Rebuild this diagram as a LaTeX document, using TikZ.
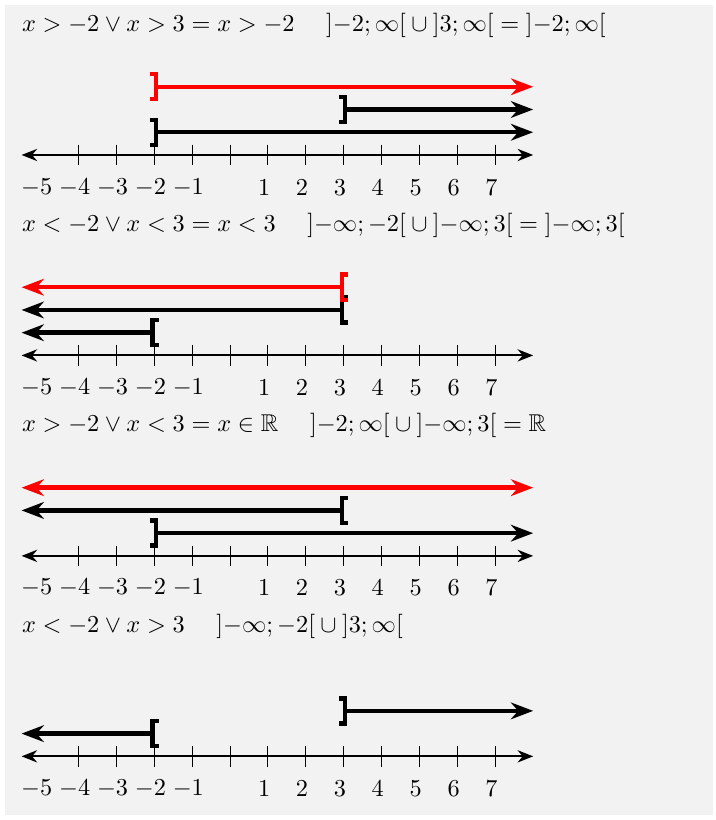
\documentclass[11pt,tikz,border=0pt]{standalone}
\usepackage{amsmath,amssymb}
\usetikzlibrary{arrows.meta}
\tikzstyle{axisline} = [line width=0.9pt,<->,>={Stealth[length=7pt,width=5.5pt]}]
\tikzstyle{tickmark} = [thin]
\tikzstyle{rayline} = [line width=2pt,>={Stealth[length=10pt,width=7.5pt]}]
\tikzstyle{bracket} = [line width=2pt, line join=miter]
\tikzstyle{rule} = [anchor=west, inner sep=0pt]
\tikzstyle{ticklabel} = [inner sep=0pt]
% ] at #1 on level #2, ray to the right
\newcommand{\closedright}[3][black]{%
  \draw[bracket,#1] (#2-0.12,#3+0.33) -- (#2+0.04,#3+0.33) -- (#2+0.04,#3-0.33) -- (#2-0.12,#3-0.33);
  \draw[rayline,->,#1] (#2+0.04,#3) -- (8,#3);}
% [ at #1 on level #2, ray to the left
\newcommand{\closedleft}[3][black]{%
  \draw[bracket,#1] (#2+0.12,#3+0.33) -- (#2-0.04,#3+0.33) -- (#2-0.04,#3-0.33) -- (#2+0.12,#3-0.33);
  \draw[rayline,<-,#1] (-5.5,#3) -- (#2-0.04,#3);}

\begin{document}
\begin{tikzpicture}[x=0.6cm,y=0.6cm]
    \useasboundingbox (-6.07,-17.55) rectangle (12.82,4.09);
    \fill[black!5] (-5.94,-17.41) rectangle (12.74,3.96);

    % the four number lines
    \foreach \ay/\k in {0/a,-5.29/b,-10.58/c,-15.87/d} {
        \draw[axisline] (-5.5,\ay) -- (8,\ay);
        \foreach \t in {-4,...,7}
            \draw[tickmark] (\t,\ay+0.27) -- (\t,\ay-0.27);
        \foreach \t in {-5,-4,-3,-2,-1,1,2,3,4,5,6,7}
            \node[ticklabel] (\k\t) at (\t-0.1,\ay-0.85) {$\t$};
    }

    % rules
    \node[rule] (ruleA) at (-5.5,3.43) {$x>-2\vee x>3=x>-2\hspace{1.3em}{]}{-2};\infty{[}\cup{]}3;\infty{[}={]}{-2};\infty{[}$};
    \node[rule] (ruleB) at (-5.5,-1.86) {$x<-2\vee x<3=x<3\hspace{1.3em}{]}{-\infty};-2{[}\cup{]}{-\infty};3{[}={]}{-\infty};3{[}$};
    \node[rule] (ruleC) at (-5.5,-7.15) {$x>-2\vee x<3=x\in\mathbb{R}\hspace{1.3em}{]}{-2};\infty{[}\cup{]}{-\infty};3{[}=\mathbb{R}$};
    \node[rule] (ruleD) at (-5.5,-12.44) {$x<-2\vee x>3\hspace{1.3em}{]}{-\infty};-2{[}\cup{]}3;\infty{[}$};

    % x > -2 or x > 3
    \closedright{-2}{0.6}
    \closedright{3}{1.2}
    \closedright[red]{-2}{1.8}

    % x < -2 or x < 3
    \closedleft{-2}{-4.69}
    \closedleft{3}{-4.09}
    \closedleft[red]{3}{-3.49}

    % x > -2 or x < 3
    \closedright{-2}{-9.98}
    \closedleft{3}{-9.38}
    \draw[rayline,<->,red] (-5.5,-8.78) -- (8,-8.78);

    % x < -2 or x > 3
    \closedleft{-2}{-15.27}
    \closedright{3}{-14.67}
\end{tikzpicture}
\end{document}
